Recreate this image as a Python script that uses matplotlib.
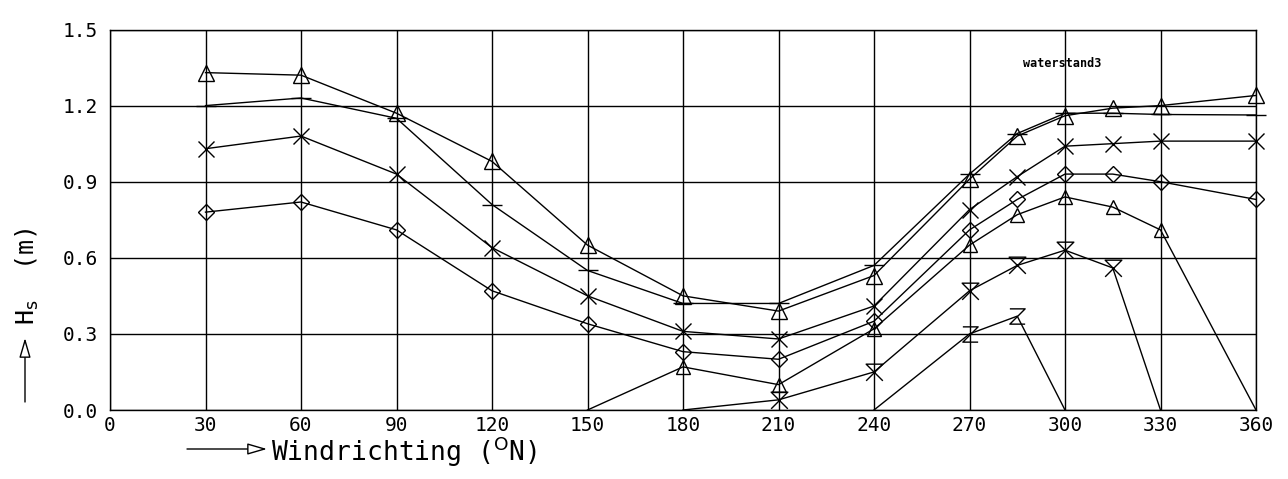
import matplotlib
matplotlib.use("Agg")
import matplotlib.pyplot as plt
from matplotlib.path import Path
from matplotlib.patches import FancyArrowPatch

# Wind direction (degrees N) and significant wave height Hs (m)
dir_full = [30, 60, 90, 120, 150, 180, 210, 240, 270, 285, 300, 315, 330, 360]
hs_tri_top = [1.33, 1.32, 1.17, 0.98, 0.65, 0.45, 0.39, 0.53, 0.91, 1.08, 1.16, 1.19, 1.20, 1.24]
hs_dash = [1.20, 1.23, 1.15, 0.81, 0.55, 0.42, 0.42, 0.57, 0.93, 1.09, 1.17, 1.17, 1.165, 1.163]
hs_cross = [1.03, 1.08, 0.93, 0.64, 0.45, 0.31, 0.28, 0.41, 0.79, 0.92, 1.04, 1.05, 1.06, 1.06]
hs_diamond = [0.78, 0.82, 0.71, 0.47, 0.34, 0.23, 0.20, 0.35, 0.71, 0.83, 0.93, 0.93, 0.90, 0.83]

dir_tri_low = [150, 180, 210, 240, 270, 285, 300, 315, 330, 360]
hs_tri_low = [0.0, 0.17, 0.10, 0.32, 0.65, 0.77, 0.84, 0.80, 0.71, 0.0]

dir_bar_x = [180, 210, 240, 270, 285, 300, 315, 330]
hs_bar_x = [0.0, 0.04, 0.15, 0.47, 0.57, 0.63, 0.56, 0.0]

dir_z = [240, 270, 285, 300]
hs_z = [0.0, 0.30, 0.37, 0.0]

x_ticks = [0, 30, 60, 90, 120, 150, 180, 210, 240, 270, 300, 330, 360]
y_ticks = [0.0, 0.3, 0.6, 0.9, 1.2, 1.5]
y_tick_labels = ["0.0", "0.3", "0.6", "0.9", "1.2", "1.5"]

# plotter-style open markers
bar_x_marker = Path([(-1, -1), (1, 1), (-1, 1), (1, -1)])
z_marker = Path([(-1, 1), (1, 1), (-1, -1), (1, -1)])

mono = "DejaVu Sans Mono"
W, H = 1288, 479

fig = plt.figure(figsize=(W / 100, H / 100), dpi=100)
ax = fig.add_axes([110 / W, 69 / H, 1146 / W, 380.5 / H])

ax.set_xlim(0, 360)
ax.set_ylim(0, 1.5)
ax.set_xticks(x_ticks)
ax.set_yticks(y_ticks)
ax.set_yticklabels(y_tick_labels)
ax.grid(True, color="black", linewidth=1.0)
ax.set_axisbelow(True)
ax.tick_params(axis="y", length=0, labelsize=14, pad=9)
ax.tick_params(axis="x", length=0, labelsize=14, pad=4)
for lab in ax.get_xticklabels() + ax.get_yticklabels():
    lab.set_family(mono)
for sp in ax.spines.values():
    sp.set_linewidth(1.0)


def nonzero(vals):
    return [i for i, v in enumerate(vals) if v > 0]


common = dict(color="black", linewidth=1.0, markerfacecolor="none",
              markeredgecolor="black", markeredgewidth=1.0, clip_on=False)

ax.plot(dir_full, hs_tri_top, marker="^", markersize=11, **common)
ax.plot(dir_full, hs_dash, marker="_", markersize=14, **common)
ax.plot(dir_full, hs_cross, marker="x", markersize=12, **common)
ax.plot(dir_full, hs_diamond, marker="D", markersize=8, **common)
ax.plot(dir_tri_low, hs_tri_low, marker="^", markersize=10,
        markevery=nonzero(hs_tri_low), **common)
ax.plot(dir_bar_x, hs_bar_x, marker=bar_x_marker, markersize=12,
        markevery=nonzero(hs_bar_x), **common)
ax.plot(dir_z, hs_z, marker=z_marker, markersize=11,
        markevery=nonzero(hs_z), **common)

ax.text(299, 1.365, "waterstand3", family=mono, fontsize=8.5,
        fontweight="bold", ha="center", va="center")

# axis titles with plotter arrows (positions in figure pixels)
arrow_style = dict(arrowstyle="-|>,head_length=12,head_width=3.5",
                   edgecolor="black", facecolor="white", lw=1.0,
                   mutation_scale=1, shrinkA=0, shrinkB=0)
fig.add_artist(FancyArrowPatch((187, 30), (267, 30), transform=None,
                               **arrow_style))
fig.text(271 / W, 18 / H, r"Windrichting ($^{\mathrm{O}}$N)", family=mono,
         fontsize=19, ha="left", va="baseline")

fig.add_artist(FancyArrowPatch((25, 77), (25, 141), transform=None,
                               **arrow_style))
fig.text(27 / W, 154 / H, r"H$_{\mathrm{s}}$  (m)", family=mono,
         fontsize=18, rotation=90, ha="center", va="bottom")

fig.savefig("out.png", dpi=100)
